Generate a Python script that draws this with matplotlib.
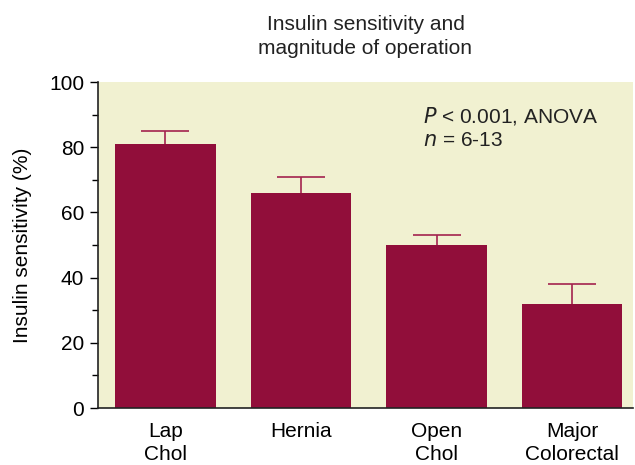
import numpy as np
import matplotlib.pyplot as plt
from matplotlib.ticker import MultipleLocator

categories = ["Lap\nChol", "Hernia", "Open\nChol", "Major\nColorectal"]
sensitivity = [81, 66, 50, 32]
error_up = [4, 5, 3, 6]

plt.rcParams['font.family'] = ['Liberation Sans', 'DejaVu Sans']

fig = plt.figure(figsize=(6.35, 4.65), dpi=100)
ax = fig.add_axes([98 / 635, 1 - 408 / 465, 535 / 635, 326 / 465])
ax.set_facecolor('#f1f1d1')

x = np.arange(len(categories))
ax.bar(x, sensitivity, width=0.745, color='#910e3a', zorder=2)
_, caps, _ = ax.errorbar(x, sensitivity, yerr=[np.zeros(len(x)), error_up],
                         fmt='none', ecolor='#a3234f', elinewidth=1.2,
                         capsize=17, capthick=1.2, zorder=3)
# only the upper whisker is shown
caps[0].set_visible(False)

ax.set_xlim(-0.498, 3.45)
ax.set_ylim(0, 100)
ax.yaxis.set_major_locator(MultipleLocator(20))
ax.yaxis.set_minor_locator(MultipleLocator(10))
ax.set_xticks(x)
ax.set_xticklabels(categories, fontsize=15, linespacing=1.3)
ax.tick_params(axis='x', length=0, pad=10)
ax.tick_params(axis='y', which='major', length=6, width=1, labelsize=15, pad=4)
ax.tick_params(axis='y', which='minor', length=4, width=1)

for side in ['top', 'right']:
    ax.spines[side].set_visible(False)
for side in ['left', 'bottom']:
    ax.spines[side].set_color('#222222')
    ax.spines[side].set_linewidth(1.2)

ax.set_ylabel("Insulin sensitivity (%)", fontsize=15, labelpad=12)
ax.set_title("Insulin sensitivity and\nmagnitude of operation", fontsize=15,
             pad=20, color='#222222', linespacing=1.35)

ax.text(0.608, 0.93, "$\\it{P}$ < 0.001, ANOVA\n$\\it{n}$ = 6-13",
        transform=ax.transAxes, fontsize=15, va='top', ha='left',
        linespacing=1.3, color='#222222')

fig.savefig("out.png", dpi=100)
